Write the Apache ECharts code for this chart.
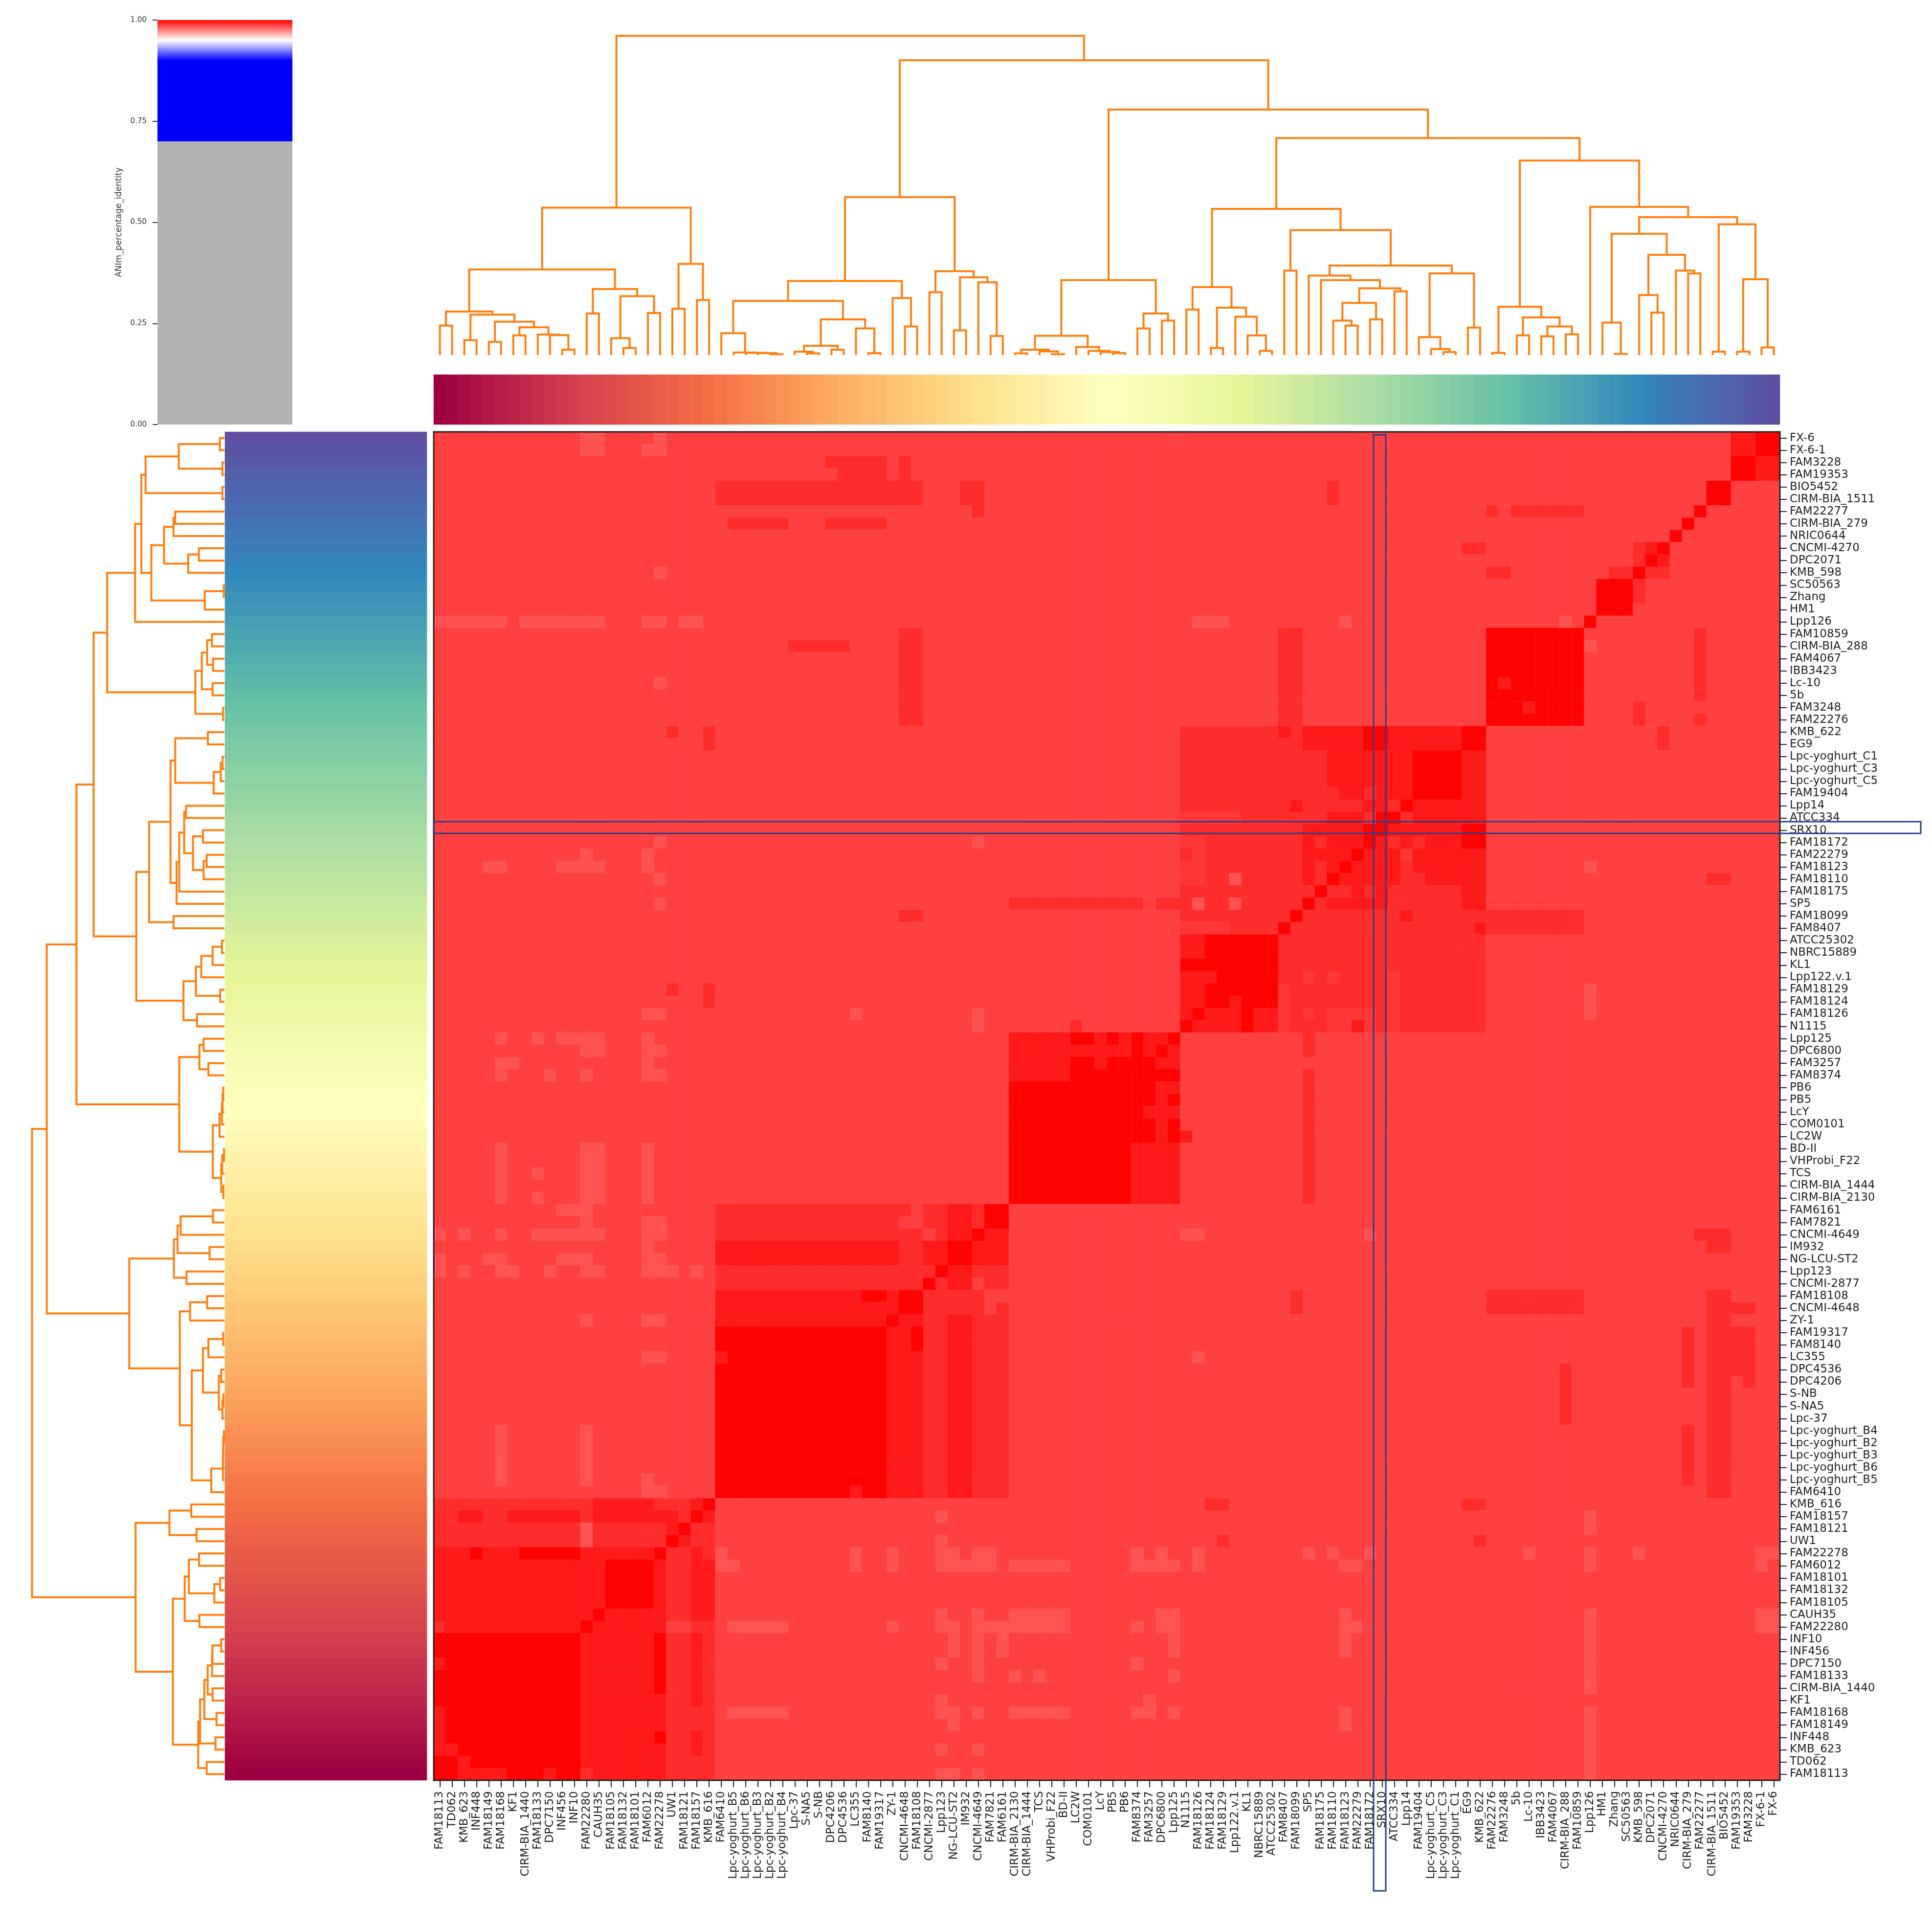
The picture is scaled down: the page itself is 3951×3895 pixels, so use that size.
<!DOCTYPE html>
<html><head><meta charset="utf-8">
<style>html,body{margin:0;padding:0;background:#fff}#c{width:3951px;height:3895px}</style>
<script src="https://cdn.jsdelivr.net/npm/echarts@6/dist/echarts.min.js"></script>
</head><body><div id="c"></div>
<script>
// ---------- tick labels (top to bottom on the heat map's right side)
const rowLabels = ["FX-6","FX-6-1","FAM3228","FAM19353","BIO5452","CIRM-BIA_1511","FAM22277","CIRM-BIA_279","NRIC0644","CNCMI-4270","DPC2071","KMB_598","SC50563","Zhang","HM1","Lpp126","FAM10859","CIRM-BIA_288","FAM4067","IBB3423","Lc-10","5b","FAM3248","FAM22276","KMB_622","EG9","Lpc-yoghurt_C1","Lpc-yoghurt_C3","Lpc-yoghurt_C5","FAM19404","Lpp14","ATCC334","SRX10","FAM18172","FAM22279","FAM18123","FAM18110","FAM18175","SP5","FAM18099","FAM8407","ATCC25302","NBRC15889","KL1","Lpp122.v.1","FAM18129","FAM18124","FAM18126","N1115","Lpp125","DPC6800","FAM3257","FAM8374","PB6","PB5","LcY","COM0101","LC2W","BD-II","VHProbi_F22","TCS","CIRM-BIA_1444","CIRM-BIA_2130","FAM6161","FAM7821","CNCMI-4649","IM932","NG-LCU-ST2","Lpp123","CNCMI-2877","FAM18108","CNCMI-4648","ZY-1","FAM19317","FAM8140","LC355","DPC4536","DPC4206","S-NB","S-NA5","Lpc-37","Lpc-yoghurt_B4","Lpc-yoghurt_B2","Lpc-yoghurt_B3","Lpc-yoghurt_B6","Lpc-yoghurt_B5","FAM6410","KMB_616","FAM18157","FAM18121","UW1","FAM22278","FAM6012","FAM18101","FAM18132","FAM18105","CAUH35","FAM22280","INF10","INF456","DPC7150","FAM18133","CIRM-BIA_1440","KF1","FAM18168","FAM18149","INF448","KMB_623","TD062","FAM18113"];
const colLabels = rowLabels.slice().reverse();

// ---------- identity levels
const B = 0.9875, L = 0.984, M = 0.9895, d = 0.9914, D = 0.995, R = 0.9995;
const colorbarTicks = [0, 0.25, 0.5, 0.75, 1];
const colorbarGrey = [0.7], colorbarRamp = [0.3];

// ---------- heat map regions [row0,row1,col0,col1,identity]
const upperLeft = [
[0,1,12,13,L],[0,1,18,18,L],[1,1,17,17,L],[2,2,32,36,d],[3,3,33,36,d],[2,3,38,38,d],[4,5,23,39,d],[4,5,43,44,d],[6,6,44,44,d],[7,7,24,28,d],[7,7,32,36,d],
[11,11,18,18,L],[15,15,0,5,L],[15,15,7,13,L],[15,15,17,18,L],[15,15,20,21,L],[16,23,38,39,d],[17,17,29,33,d],[20,20,18,18,L],[24,24,19,19,d],[24,25,22,22,d],
[33,33,18,18,L],[33,33,44,44,L],[34,34,12,12,L],[34,35,17,17,L],[35,35,4,5,L],[35,35,10,13,L],[36,36,18,18,L],[38,38,18,18,L],[39,39,38,39,d],
[45,45,19,19,d],[45,46,22,22,d],[47,47,17,18,L],[47,47,34,34,L],[47,48,44,44,L],[49,52,17,17,L],[49,49,5,5,L],[49,49,8,8,L],[49,49,10,13,L],[50,50,12,13,L],[50,50,18,18,L],
[51,51,5,6,L],[52,52,5,5,L],[52,52,9,9,L],[52,52,12,12,L],[52,52,18,18,L],
[58,62,5,5,L],[58,62,12,13,L],[58,62,17,17,L],[60,60,8,8,L],[62,62,8,8,L],[63,63,10,12,L],[64,64,12,12,L],[64,64,17,18,L],
[65,65,0,0,L],[65,65,2,2,L],[65,65,5,5,L],[65,65,8,13,L],[65,65,17,18,L],[66,66,17,17,L],[67,67,0,0,L],[67,67,4,5,L],[67,67,10,12,L],[67,67,17,18,L],
[68,68,0,0,L],[68,68,2,2,L],[68,68,5,6,L],[68,68,9,9,L],[68,68,12,13,L],[68,68,17,19,L],[68,68,21,21,L],
[72,72,12,12,L],[72,72,17,18,L],[75,75,17,18,L],[81,85,5,5,L],[81,85,12,12,L],[85,85,17,17,L],[86,86,17,18,L]
];
const blockLbGroup = [
[63,65,23,37,d],[63,63,38,38,d],[63,64,40,41,d],[63,65,42,43,D],[63,64,44,44,d],[63,64,45,46,R],[65,65,38,39,d],[65,65,41,41,d],[65,65,44,44,R],[65,65,45,46,D],
[66,67,23,37,D],[66,67,38,39,d],[66,67,40,41,D],[66,67,42,43,R],[66,67,44,46,D],[68,68,23,40,d],[68,68,41,41,R],[68,69,42,43,D],[68,68,44,46,d],
[69,69,23,39,d],[69,69,40,40,R],[69,69,41,41,d],[69,69,45,46,d],
[70,72,23,36,D],[70,70,35,36,R],[70,86,37,39,D],[70,71,38,39,R],[72,72,37,37,R],[73,74,39,39,R],[73,86,23,36,R],[75,75,23,23,D],[86,86,34,34,D],
[70,86,40,41,d],[70,71,42,43,d],[72,86,42,43,D],[70,86,44,46,d],[70,70,45,46,B],[71,71,45,45,B]
];
const blockBottomLeft = [
[87,87,0,12,d],[87,87,13,17,D],[87,87,18,20,d],[87,87,21,21,D],[87,87,22,22,R],
[88,88,0,1,d],[88,88,2,3,D],[88,88,4,5,d],[88,88,6,11,D],[88,88,12,12,d],[88,88,13,19,D],[88,88,20,20,d],[88,88,21,21,R],[88,88,22,22,D],
[89,90,0,11,d],[89,90,12,12,L],[89,90,13,18,d],[89,89,19,19,D],[89,89,20,20,R],[89,90,21,22,d],[90,90,19,19,R],[90,90,20,20,D],
[91,91,0,2,D],[91,91,3,3,R],[91,91,4,6,D],[91,91,7,11,R],[91,91,12,17,D],[91,91,18,18,R],[91,91,19,20,d],[91,91,21,21,D],[91,91,22,22,d],
[92,96,0,18,D],[92,95,14,17,R],[96,96,13,13,R],[92,96,19,20,d],[92,96,21,22,D],
[97,97,0,0,d],[97,97,1,18,D],[97,97,12,12,R],[97,97,19,20,B],[97,97,21,22,d],
[98,109,0,11,R],[98,109,12,18,D],[98,102,18,18,R],[106,106,18,18,R],[98,109,19,22,d],[98,103,21,21,D],[106,107,21,21,D],
[100,100,0,0,D],[104,107,0,0,D],[107,107,1,1,D],[108,108,2,2,D],[109,109,2,5,D],[109,109,9,9,D],[109,109,12,12,d]
];
const lowerMiddle = [
[91,92,34,34,L],[91,92,37,37,L],[91,91,23,23,L],[92,92,23,24,L],[88,88,41,41,L],[90,90,41,41,L],[91,92,41,42,L],[92,92,43,43,L],[91,92,44,45,L],[92,92,47,51,L],
[96,97,47,51,L],[97,97,24,28,L],[97,97,37,37,L],[104,104,24,28,L],[96,97,41,41,L],[97,99,42,42,L],[100,100,41,41,L],[103,104,41,41,L],[104,105,42,42,L],[107,107,41,41,L],[109,109,41,42,L],
[96,101,44,44,L],[104,104,44,44,L],[107,107,44,44,L],[109,109,44,44,L],[97,97,45,46,L],[98,99,46,46,L],[101,101,47,47,L],[101,101,49,49,L],[104,104,47,51,L]
];
const blockMiddle = [
[49,52,47,51,D],[53,57,47,58,R],[58,62,47,56,R],[58,62,57,60,D],
[49,49,52,53,R],[49,49,54,54,D],[49,49,55,55,R],[49,49,56,56,D],[49,49,57,57,R],[49,49,58,59,D],[49,49,60,60,R],
[50,50,52,56,D],[50,50,57,57,R],[50,50,58,58,D],[50,50,59,59,R],[50,50,60,60,D],
[51,51,52,53,R],[51,51,54,54,D],[51,51,55,58,R],[51,51,59,60,D],[52,52,52,60,R],
[53,54,59,60,D],[54,54,60,60,R],[55,55,58,60,D],[56,57,59,59,D],[56,57,60,60,R],[57,57,61,61,D],
[49,50,71,71,d],[52,62,71,71,d]
];
const lowerRight = [
[65,65,61,62,L],[65,65,76,76,L],[65,65,103,105,d],[66,66,104,105,d],[70,71,70,70,d],[70,71,86,93,d],[70,86,104,105,d],[71,71,106,107,d],[73,76,106,107,d],[77,77,107,107,d],
[73,77,102,102,d],[81,85,102,102,d],[76,80,92,92,d],[75,75,62,62,L],[87,87,63,64,d],[87,87,84,85,d],[90,90,64,64,d],[90,90,85,85,d],
[88,89,94,94,L],[91,92,94,94,L],[96,102,94,94,L],[104,109,94,94,L],
[91,92,57,57,L],[91,92,59,59,L],[91,92,62,62,L],[91,91,71,71,L],[91,91,73,73,L],[91,91,76,76,L],[91,91,89,89,L],[91,91,98,98,L],[91,91,108,109,L],[92,92,57,60,L],[92,92,74,75,L],[92,92,108,108,L],
[96,97,59,60,L],[96,99,74,74,L],[96,97,108,109,L],[97,97,57,57,L],[97,97,75,75,L],[98,99,60,60,L],[100,100,57,57,L],[101,101,60,60,L],[103,103,58,58,L],[104,104,57,58,L],[104,104,60,60,L],[104,105,74,74,L]
];
const upperRight = [
[0,1,106,107,D],[0,1,108,109,R],[2,3,106,107,R],[2,3,108,109,D],[4,5,104,105,R],[4,5,73,73,d],
[6,6,86,86,d],[6,6,88,93,d],[6,6,103,103,R],[7,7,102,102,R],[8,8,101,101,R],
[9,9,84,85,d],[9,9,98,98,d],[9,9,99,99,D],[9,9,100,100,R],[10,10,98,98,d],[10,10,99,99,R],[10,10,100,100,D],
[11,11,86,87,d],[11,11,96,97,d],[11,11,98,98,R],[11,11,99,100,d],[12,14,95,97,R],[12,13,98,98,d],
[15,15,62,64,L],[15,15,74,74,L],[15,15,92,92,L],[15,15,94,94,R],[16,23,86,93,R],[16,23,69,70,d],[16,21,103,103,d],[17,17,94,94,L],
[20,20,87,87,D],[22,22,89,89,D],[22,23,98,98,d],[23,23,103,103,d],[24,25,100,100,d],[35,35,94,94,L],[36,36,104,105,d],[45,47,94,94,L]
];
const centralRows = [
[24,25,61,70,d],[24,24,69,69,D],[24,25,71,75,D],[24,25,76,77,R],[24,25,78,83,D],[24,25,84,85,R],
[26,28,61,72,d],[26,28,73,79,D],[26,28,80,83,R],[26,28,84,85,D],
[29,29,61,73,d],[29,29,74,75,D],[29,29,76,76,d],[29,29,77,79,D],[29,29,80,83,R],[29,29,84,85,D],
[30,30,61,69,d],[30,30,70,70,D],[30,30,71,75,d],[30,30,76,77,D],[30,30,78,78,d],[30,30,79,79,R],[30,30,80,85,D],
[31,31,61,65,M],[31,31,66,72,d],[31,31,73,75,D],[31,31,76,76,d],[31,31,77,78,R],[31,31,79,79,d],[31,31,80,85,D],
[32,32,61,70,d],[32,32,71,75,D],[32,32,76,77,R],[32,32,78,83,D],[32,32,84,85,R],
[33,33,61,62,M],[33,33,63,70,d],[33,33,71,71,D],[33,33,72,72,d],[33,33,73,75,D],[33,33,76,76,R],[33,33,77,77,D],[33,33,78,78,d],[33,33,79,79,D],[33,33,80,80,d],[33,33,81,83,D],[33,33,84,85,R],
[34,34,61,61,d],[34,34,62,62,M],[34,34,63,70,d],[34,34,71,74,D],[34,34,75,75,R],[34,34,76,78,D],[34,34,79,79,M],[34,34,80,85,D],
[35,35,61,62,M],[35,35,63,70,d],[35,35,71,71,D],[35,35,72,72,d],[35,35,73,73,D],[35,35,74,74,R],[35,35,75,78,D],[35,35,79,79,d],[35,35,80,85,D],
[36,36,61,62,M],[36,36,63,64,d],[36,36,65,65,L],[36,36,66,70,d],[36,36,71,71,D],[36,36,72,72,d],[36,36,73,73,R],[36,36,74,78,D],[36,36,79,80,d],[36,36,81,85,D],
[37,37,61,71,d],[37,37,72,72,R],[37,37,73,74,d],[37,37,75,75,D],[37,37,76,76,d],[37,37,77,77,D],[37,37,78,83,d],[37,37,84,85,D],
[38,38,47,57,d],[38,38,59,61,d],[38,38,62,62,L],[38,38,63,64,d],[38,38,65,65,L],[38,38,66,70,d],[38,38,71,71,R],[38,38,72,72,d],[38,38,73,77,D],[38,38,78,83,d],[38,38,84,85,D],
[39,39,61,69,d],[39,39,70,70,R],[39,39,71,78,d],[39,39,79,79,D],[39,39,80,93,d],
[40,40,61,64,M],[40,40,65,68,d],[40,40,69,69,R],[40,40,70,84,d],[40,40,85,85,D],[40,40,86,93,d],
[41,48,69,85,d],[41,42,61,62,D],[41,42,63,68,R],[43,43,61,68,R],[44,44,61,63,D],[44,44,64,68,R],[44,44,71,71,M],[44,44,73,73,M],[44,48,78,78,M],
[45,46,61,62,D],[45,45,63,68,R],[46,46,63,64,R],[46,46,65,65,D],[46,46,66,68,R],[45,48,69,69,M],
[47,47,61,61,D],[47,47,62,62,R],[47,47,63,65,D],[47,47,66,66,R],[47,47,67,68,D],[47,47,71,71,M],[47,47,73,76,M],
[48,48,61,61,R],[48,48,62,65,D],[48,48,66,66,R],[48,48,67,68,D],[48,48,73,74,M],[48,48,75,75,D],[48,48,76,76,M],[48,48,52,52,d]
];

// ---------- the clustering: node = [height, left, right], 0 = a leaf, leaves in column order
const clusterA = [175,
  [89,[60.3,0,0],[82.7,[30.4,0,0],[68.3,[27,0,0],[56.8,[40.2,0,0],[41.9,0,[40.8,0,[10.9,0,0]]]]]]],
  [134.9,[85,0,0],[120.6,[34.4,0,[14.4,0,0]],[86.1,0,0]]]];
const clusterB = [186.6,[94.7,0,0],[112.5,0,0]];
const clusterC = [151.5,
  [110.8,[44.8,0,[5.2,0,[4.6,0,[4,0,[1.7,0,0]]]]],[72.9,[18.9,[6.9,0,[3.4,0,0]],[10.9,0,0]],[54.5,0,[4,0,0]]]],
  [116.5,0,[58.6,0,0]]];
const clusterD = [171.6,[128.6,0,0],[159,[50.5,0,0],[148.7,0,[39,0,0]]]];
const clusterE = [153.3,
  [39.6,[10.9,[3.4,0,0],[7.5,0,[1.7,0,0]]],[16.6,0,[8.6,0,[6.3,0,[4,0,0]]]]],
  [85,[54.5,0,0],[70.6,0,0]]];
const clusterG = [299,
  [138.9,[93,0,0],[97,[14.4,0,0],[78.6,0,[40.2,0,[8.6,0,0]]]]],
  [255.5,[172.8,0,0],[183,
    [162.5,0,[153.3,0,[136.6,[106.8,[70.6,0,[60.3,0,0]],[72.9,0,0]],[130.3,0,0]]]],
    [167,[36.7,0,[12.6,0,[6.3,0,0]]],[56.3,0,0]]]]];
const clusterH = [397.8,
  [98.7,[4.6,0,0],[76.9,[40.2,0,0],[58.6,[38.5,0,0],[42.5,0,0]]]],
  [303,0,[281.9,[248,[66.6,0,[2.3,0,0]],[204.9,[122.8,0,[86.7,0,0]],[172.8,0,[167,0,0]]]],
    [267.5,[6.9,0,0],[155,[6.9,0,0],[15.5,0,0]]]]]];
const tree = [652.7,[301.4,clusterA,clusterB],[602.8,[323,clusterC,clusterD],[502,clusterE,[443.7,clusterG,clusterH]]]];

// ---------- build tables for the library
const allRegions = [upperLeft,blockLbGroup,blockBottomLeft,lowerMiddle,blockMiddle,lowerRight,upperRight,centralRows];
const n = rowLabels.length;
const M2 = Array.from({length:n},()=>new Array(n).fill(B));
allRegions.forEach(list=>list.forEach(([r0,r1,c0,c1,v])=>{
  for(let r=r0;r<=r1;r++)for(let c=c0;c<=c1;c++)M2[r][c]=v;
}));
const heatData=[];
for(let r=0;r<n;r++)for(let c=0;c<n;c++)heatData.push([c,r,M2[r][c]]);

const links=[];
let nextLeaf=0;
function walk(node){
  if(node===0){const p=nextLeaf+0.5;nextLeaf++;return [p,0];}
  const [h,a,b]=node;
  const A=walk(a),Bp=walk(b);
  links.push([A[0],A[1],Bp[0],Bp[1],h]);
  return [(A[0]+Bp[0])/2,h];
}
walk(tree);
const topLines=links.map(l=>({coords:[[l[0],l[1]],[l[0],l[4]],[l[2],l[4]],[l[2],l[3]]]}));
const leftLines=links.map(l=>({coords:[[l[1],l[0]],[l[4],l[0]],[l[4],l[2]],[l[3],l[2]]]}));
const idx=colLabels.map((_,i)=>i);

const spectral=['#9e0142','#d53e4f','#f46d43','#fdae61','#fee08b','#ffffbf','#e6f598','#abdda4','#66c2a5','#3288bd','#5e4fa2'];
const font='DejaVu Sans', orange='#ff7f0e', ink='#222';
const HX=887,HY=883,HW=2753,HH=2757;
const hidden=(o)=>Object.assign({show:false},o);

const chart=echarts.init(document.getElementById('c'),null,{renderer:'canvas',width:3951,height:3895});
chart.setOption({
  animation:false,backgroundColor:'#ffffff',
  grid:[
    {left:HX,top:HY,width:HW,height:HH},
    {left:HX,top:26,width:HW,height:700},
    {left:37,top:HY,width:422,height:HH},
    {left:HX,top:766,width:HW,height:102},
    {left:460,top:HY,width:413,height:HH},
    {left:322,top:41,width:276,height:827}
  ],
  xAxis:[
    {type:'category',gridIndex:0,data:colLabels,position:'bottom',
     axisLine:{show:false},axisTick:{show:true,alignWithLabel:true,length:14,lineStyle:{color:ink,width:2}},
     axisLabel:{interval:0,rotate:90,fontFamily:font,fontSize:23,color:ink,margin:22},splitLine:{show:false}},
    hidden({type:'value',gridIndex:1,min:0,max:110}),
    hidden({type:'value',gridIndex:2,min:0,max:700,inverse:true}),
    hidden({type:'category',gridIndex:3,data:idx}),
    hidden({type:'category',gridIndex:4,data:[0]}),
    hidden({type:'category',gridIndex:5,data:['c']})
  ],
  yAxis:[
    {type:'category',gridIndex:0,data:rowLabels,inverse:true,position:'right',
     axisLine:{show:false},axisTick:{show:true,alignWithLabel:true,length:14,lineStyle:{color:ink,width:2}},
     axisLabel:{interval:0,fontFamily:font,fontSize:23,color:ink,margin:20},splitLine:{show:false}},
    hidden({type:'value',gridIndex:1,min:0,max:700}),
    hidden({type:'value',gridIndex:2,min:0,max:110}),
    hidden({type:'category',gridIndex:3,data:[0]}),
    hidden({type:'category',gridIndex:4,data:idx,inverse:true}),
    {type:'value',gridIndex:5,min:0,max:1,interval:0.25,name:'ANIm_percentage_identity',nameLocation:'middle',nameRotate:90,nameGap:70,
     nameTextStyle:{fontFamily:font,fontSize:17,color:'#333'},
     axisLine:{show:false},axisTick:{show:true,length:10,lineStyle:{color:'#333',width:2}},
     axisLabel:{fontFamily:font,fontSize:15,color:'#333',margin:22,formatter:v=>v.toFixed(2)},splitLine:{show:false}}
  ],
  visualMap:[
    {type:'continuous',show:false,seriesIndex:0,dimension:2,min:0.95,max:1,inRange:{color:['#ffffff','#ff0000']}},
    {type:'continuous',show:false,seriesIndex:[1,2],dimension:2,min:0,max:109,inRange:{color:spectral}}
  ],
  series:[
    {type:'heatmap',xAxisIndex:0,yAxisIndex:0,data:heatData,progressive:0,emphasis:{disabled:true},itemStyle:{borderWidth:0}},
    {type:'heatmap',xAxisIndex:3,yAxisIndex:3,data:idx.map(i=>[i,0,i]),progressive:0,emphasis:{disabled:true}},
    {type:'heatmap',xAxisIndex:4,yAxisIndex:4,data:idx.map(i=>[0,i,n-1-i]),progressive:0,emphasis:{disabled:true}},
    {type:'lines',coordinateSystem:'cartesian2d',xAxisIndex:1,yAxisIndex:1,polyline:true,data:topLines,lineStyle:{color:orange,width:4,opacity:1},silent:true},
    {type:'lines',coordinateSystem:'cartesian2d',xAxisIndex:2,yAxisIndex:2,polyline:true,data:leftLines,lineStyle:{color:orange,width:4,opacity:1},silent:true},
    {type:'bar',xAxisIndex:5,yAxisIndex:5,stack:'cb',barWidth:'100%',data:colorbarGrey,itemStyle:{color:'#b2b2b2'},silent:true},
    {type:'bar',xAxisIndex:5,yAxisIndex:5,stack:'cb',barWidth:'100%',data:colorbarRamp,silent:true,
     itemStyle:{color:{type:'linear',x:0,y:0,x2:0,y2:1,colorStops:[
       {offset:0,color:'#ff0000'},{offset:0.1667,color:'#ffffff'},{offset:0.3333,color:'#0000ff'},{offset:1,color:'#0000ff'}]}}}
  ],
  graphic:[
    {type:'rect',z:100,silent:true,shape:{x:HX,y:HY,width:HW,height:HH},style:{fill:'none',stroke:'#222',lineWidth:3}},
    {type:'rect',z:101,silent:true,shape:{x:HX,y:1680,width:3928-HX,height:24},style:{fill:'none',stroke:'#2b3f86',lineWidth:3}},
    {type:'rect',z:101,silent:true,shape:{x:2809,y:889,width:25,height:3866-889},style:{fill:'none',stroke:'#2b3f86',lineWidth:3}}
  ]
});
</script></body></html>
